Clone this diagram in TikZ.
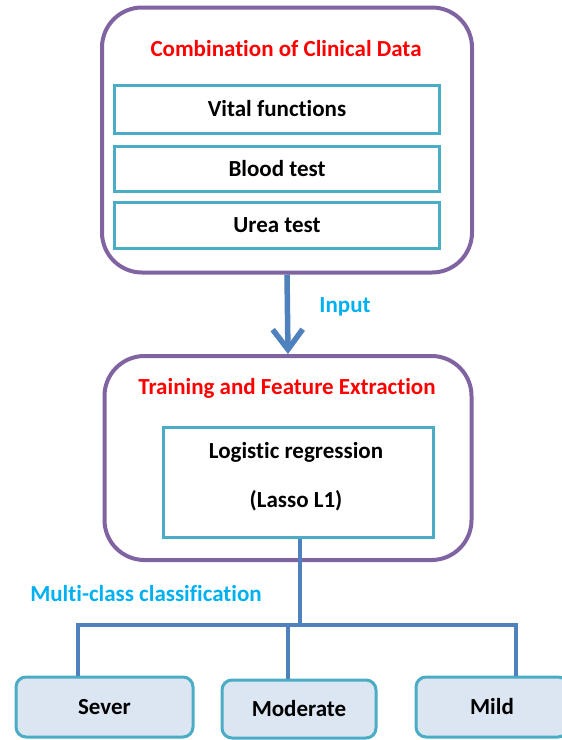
\documentclass[tikz,border=0pt]{standalone}
\usepackage{fontspec}
\setmainfont{Carlito}[Ligatures=NoCommon]
\usetikzlibrary{arrows.meta}

\definecolor{boxpurple}{HTML}{8064A2}
\definecolor{boxteal}{HTML}{4BACC6}
\definecolor{linkblue}{HTML}{4F81BD}
\definecolor{notecyan}{HTML}{00B0F0}
\definecolor{classfill}{HTML}{DCE6F2}

\begin{document}
\begin{tikzpicture}[x=1pt,y=-1pt,
  every node/.style={font=\fontsize{23}{27}\selectfont\bfseries},
  outerbox/.style={draw=boxpurple, line width=4pt, rounded corners=40pt, fill=white},
  innerbox/.style={draw=boxteal, line width=3pt, fill=white},
  classbox/.style={draw=boxteal, line width=3pt, rounded corners=10pt, fill=classfill},
  heading/.style={text=red},
  note/.style={text=notecyan},
  link/.style={draw=linkblue, line width=3.5pt}]
  \useasboundingbox (0,0) rectangle (562,740);
  \clip (0,0) rectangle (562,740);
  % first block: clinical data
  \node[outerbox, minimum width=370pt, minimum height=265pt] (clinical) at (287,140) {};
  \node[heading] (clinicaltitle) at (286,49) {Combination of Clinical Data};
  \node[innerbox, minimum width=325pt, minimum height=48pt] (vital) at (277,109) {Vital functions};
  \node[innerbox, minimum width=325pt, minimum height=45pt] (blood) at (277,169) {Blood test};
  \node[innerbox, minimum width=325pt, minimum height=46pt] (urea) at (277,225) {Urea test};
  % second block: training
  \node[outerbox, minimum width=367pt, minimum height=204pt] (training) at (288,458) {};
  \node[heading] (trainingtitle) at (287,388) {Training and Feature Extraction};
  \node[innerbox, minimum width=270pt, minimum height=110pt] (logbox) at (298,482) {};
  \node (logit) at (296,452) {Logistic regression};
  \node (lasso) at (296,501) {(Lasso L1)};
  % arrow between blocks
  \draw[link, line width=5.5pt, -{Straight Barb[length=20pt,width=30pt]}] (clinical.south) -- (training.north);
  \node[note] (input) at (345,307) {Input};
  % classes
  \node[classbox, minimum width=177pt, minimum height=60pt] (sever) at (104.5,707) {Sever};
  \node[classbox, minimum width=154pt, minimum height=58pt] (moderate) at (299,709) {Moderate};
  \node[classbox, minimum width=152pt, minimum height=60pt] (mild) at (492,707) {Mild};
  \node[note] (multiclass) at (146,594) {Multi-class classification};
  \coordinate (split) at (300,625);
  \draw[link] (logbox.south -| split) -- (split);
  \draw[link] (split) -| ([xshift=-26.5pt]sever.north);
  \draw[link] (split) -| ([xshift=24pt]mild.north);
  \draw[link] ([xshift=-11pt]moderate.north) -- ([xshift=-11pt]moderate.north |- split);
\end{tikzpicture}
\end{document}
